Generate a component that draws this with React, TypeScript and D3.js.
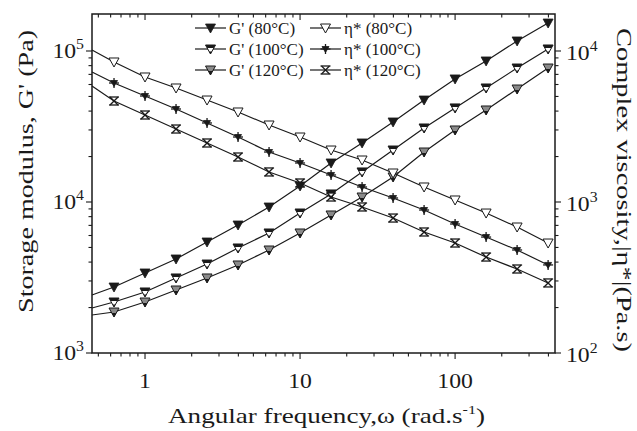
import * as d3 from 'd3';

const W = 637;
const H = 431;

// angular frequency (rad/s) of the measured points
const omega = [0.631, 1, 1.585, 2.512, 3.981, 6.31, 10, 15.85, 25.12, 39.81, 63.1, 100, 158.5, 251.2, 398.1];
// where the fitted curves meet the left axis
const omegaStart = 0.455;

// storage modulus G' (Pa)
const g80 = [2735, 3388, 4194, 5433, 7041, 9265, 12760, 18130, 24600, 33880, 47350, 65300, 85900, 116500, 153200];
const g100 = [2176, 2535, 3139, 3883, 4959, 6233, 8455, 11300, 15810, 22090, 30910, 41960, 56880, 77130, 103100];
const g120 = [1868, 2176, 2613, 3139, 3827, 4809, 6233, 8203, 10790, 14650, 21430, 29980, 40670, 56000, 77130];
const gStart = [2421, 1986, 1785];

// complex viscosity |eta*| (Pa.s)
const eta80 = [8457, 6727, 5688, 4735, 3945, 3235, 2694, 2209, 1897, 1556, 1257, 1031, 845, 683, 535];
const eta100 = [6138, 5035, 4130, 3337, 2694, 2143, 1813, 1510, 1257, 1063, 885, 715, 586, 481, 383];
const eta120 = [4665, 3768, 3043, 2459, 1986, 1581, 1336, 1079, 927, 783, 633, 535, 432, 360, 291];
const etaStart = [10160, 7261, 5866];

const xTickLabels = ['1', '10', '100'];
const leftTickExp = [3, 4, 5];
const rightTickExp = [2, 3, 4];

type MarkerKind = 'solid' | 'half' | 'gray' | 'open' | 'star' | 'cross';

const series = [
  { label: "G' (80°C)", axis: 'left', values: g80, start: gStart[0], marker: 'solid' as MarkerKind },
  { label: "G' (100°C)", axis: 'left', values: g100, start: gStart[1], marker: 'half' as MarkerKind },
  { label: "G' (120°C)", axis: 'left', values: g120, start: gStart[2], marker: 'gray' as MarkerKind },
  { label: 'η* (80°C)', axis: 'right', values: eta80, start: etaStart[0], marker: 'open' as MarkerKind },
  { label: 'η* (100°C)', axis: 'right', values: eta100, start: etaStart[1], marker: 'star' as MarkerKind },
  { label: 'η* (120°C)', axis: 'right', values: eta120, start: etaStart[2], marker: 'cross' as MarkerKind },
];

const INK = '#1a1a1a';
const FONT = "'Times New Roman', 'Liberation Serif', Times, serif";
// the source figure's lettering is a bit wider than Times
const SX = 1.13;

function Marker({ kind, x, y }: { kind: MarkerKind; x: number; y: number }) {
  const tri = `M${x - 5},${y - 4}L${x + 5},${y - 4}L${x},${y + 5}Z`;
  switch (kind) {
    case 'solid':
      return <path d={tri} fill={INK} stroke={INK} strokeWidth={0.8} />;
    case 'open':
      return <path d={tri} fill="#fff" stroke={INK} strokeWidth={1} />;
    case 'half':
      return (
        <g>
          <path d={tri} fill="#fff" stroke={INK} strokeWidth={1} />
          <path d={`M${x - 5},${y - 4}L${x + 5},${y - 4}L${x + 3.2},${y - 1}L${x - 3.2},${y - 1}Z`} fill={INK} />
          <path d={`M${x - 1.5},${y + 2.5}L${x + 1.5},${y + 2.5}L${x},${y + 5}Z`} fill={INK} />
        </g>
      );
    case 'gray':
      return (
        <g>
          <path d={tri} fill="#8a8a8a" stroke={INK} strokeWidth={1} />
          <path d={`M${x - 2.2},${y + 1}L${x + 2.2},${y + 1}L${x},${y + 5}Z`} fill={INK} />
        </g>
      );
    case 'star':
      return (
        <g stroke={INK}>
          <path d={`M${x - 3.5},${y - 2.5}L${x + 3.5},${y - 2.5}L${x},${y + 3.5}Z`} fill={INK} strokeWidth={0.8} />
          <line x1={x} y1={y - 5} x2={x} y2={y + 5} strokeWidth={1.3} />
          <line x1={x - 5} y1={y} x2={x + 5} y2={y} strokeWidth={1.3} />
        </g>
      );
    case 'cross':
      return (
        <g stroke={INK} fill="none" strokeWidth={1.3}>
          <line x1={x - 4} y1={y - 4} x2={x + 4} y2={y + 4} />
          <line x1={x + 4} y1={y - 4} x2={x - 4} y2={y + 4} />
          <line x1={x - 5} y1={y - 4} x2={x + 5} y2={y - 4} />
          <line x1={x - 5} y1={y + 4} x2={x + 5} y2={y + 4} />
        </g>
      );
  }
}

function Pow({ x, y, exp, anchor }: { x: number; y: number; exp: number; anchor: 'start' | 'end' }) {
  return (
    <g transform={`translate(${x},${y}) scale(${SX},1)`}>
      <text x={0} y={0} textAnchor={anchor} fontSize={21} fill={INK}>
        10
        <tspan dy={-9} fontSize={14}>
          {exp}
        </tspan>
      </text>
    </g>
  );
}

export default function App() {
  const m = { left: 92, right: 555, top: 14, bottom: 353 };

  const x = d3.scaleLog().domain([omegaStart, 441]).range([m.left, m.right]);
  const yL = d3.scaleLog().domain([1e3, 1.758e5]).range([m.bottom, m.top]);
  const yR = d3.scaleLog().domain([1e2, 1.758e4]).range([m.bottom, m.top]);

  const lineGen = (ys: d3.ScaleLogarithmic<number, number>) =>
    d3
      .line<[number, number]>()
      .x((d) => x(d[0]))
      .y((d) => ys(d[1]));

  const isMajor = (v: number) => Math.abs(Math.log10(v) - Math.round(Math.log10(v))) < 1e-6;

  const xTicks = x.ticks();
  const yLTicks = yL.ticks();
  const yRTicks = yR.ticks();

  const legendRows = [28, 49, 70];

  return (
    <svg
      width={W}
      height={H}
      style={{ position: 'absolute', left: 0, top: 0, background: '#fff', fontFamily: FONT }}
    >
      <rect width={W} height={H} fill="#fff" />

      {/* curves and markers */}
      {series.map((s) => {
        const ys = s.axis === 'left' ? yL : yR;
        const pts: [number, number][] = [[omegaStart, s.start], ...omega.map((w, i) => [w, s.values[i]] as [number, number])];
        return (
          <g key={s.label}>
            <path d={lineGen(ys)(pts) ?? ''} fill="none" stroke={INK} strokeWidth={1.2} />
            {omega.map((w, i) => (
              <Marker key={i} kind={s.marker} x={x(w)} y={ys(s.values[i])} />
            ))}
          </g>
        );
      })}

      {/* frame */}
      <rect
        x={m.left}
        y={m.top}
        width={m.right - m.left}
        height={m.bottom - m.top}
        fill="none"
        stroke={INK}
        strokeWidth={1.5}
      />

      {/* x ticks: bottom outward, top inward */}
      {xTicks.map((t, i) => {
        const len = isMajor(t) ? 6 : 3.5;
        return (
          <g key={i} stroke={INK} strokeWidth={1.1}>
            <line x1={x(t)} x2={x(t)} y1={m.bottom} y2={m.bottom + len} />
            <line x1={x(t)} x2={x(t)} y1={m.top} y2={m.top + len} />
          </g>
        );
      })}
      {xTickLabels.map((lab) => (
        <g key={lab} transform={`translate(${x(+lab)},388) scale(${SX},1)`}>
          <text x={0} y={0} textAnchor="middle" fontSize={21} fill={INK}>
            {lab}
          </text>
        </g>
      ))}

      {/* left axis ticks */}
      {yLTicks.map((t, i) => {
        const len = isMajor(t) ? 6 : 3.5;
        return <line key={i} x1={m.left - len} x2={m.left} y1={yL(t)} y2={yL(t)} stroke={INK} strokeWidth={1.1} />;
      })}
      {leftTickExp.map((e) => (
        <Pow key={e} x={84} y={yL(10 ** e) + 7} exp={e} anchor="end" />
      ))}

      {/* right axis ticks */}
      {yRTicks.map((t, i) => {
        const len = isMajor(t) ? 6 : 3.5;
        return <line key={i} x1={m.right} x2={m.right + len} y1={yR(t)} y2={yR(t)} stroke={INK} strokeWidth={1.1} />;
      })}
      {rightTickExp.map((e) => (
        <Pow key={e} x={566} y={yR(10 ** e) + 9} exp={e} anchor="start" />
      ))}

      {/* axis titles */}
      <text x={168} y={423} fontSize={22} fill={INK} textLength={317} lengthAdjust="spacingAndGlyphs">
        Angular frequency,ω (rad.s
        <tspan dy={-9} fontSize={13}>
          -1
        </tspan>
        <tspan dy={9}>)</tspan>
      </text>
      <text
        transform="translate(33,313) rotate(-90)"
        fontSize={22}
        fill={INK}
        textLength={283}
        lengthAdjust="spacingAndGlyphs"
      >
        Storage modulus, G' (Pa)
      </text>
      <text
        transform="translate(617,28) rotate(90)"
        fontSize={22}
        fill={INK}
        textLength={324}
        lengthAdjust="spacingAndGlyphs"
      >
        Complex viscosity,|η*|(Pa.s)
      </text>

      {/* legend */}
      {series.map((s, i) => {
        const col = i < 3 ? 0 : 1;
        const row = i % 3;
        const x0 = col === 0 ? 195 : 310;
        const cy = legendRows[row];
        return (
          <g key={s.label}>
            <line x1={x0} x2={x0 + 31} y1={cy} y2={cy} stroke={INK} strokeWidth={1.2} />
            <Marker kind={s.marker} x={x0 + 15.5} y={cy} />
            <text x={x0 + 34} y={cy + 5.5} fontSize={17} fill={INK}>
              {s.label}
            </text>
          </g>
        );
      })}
    </svg>
  );
}
